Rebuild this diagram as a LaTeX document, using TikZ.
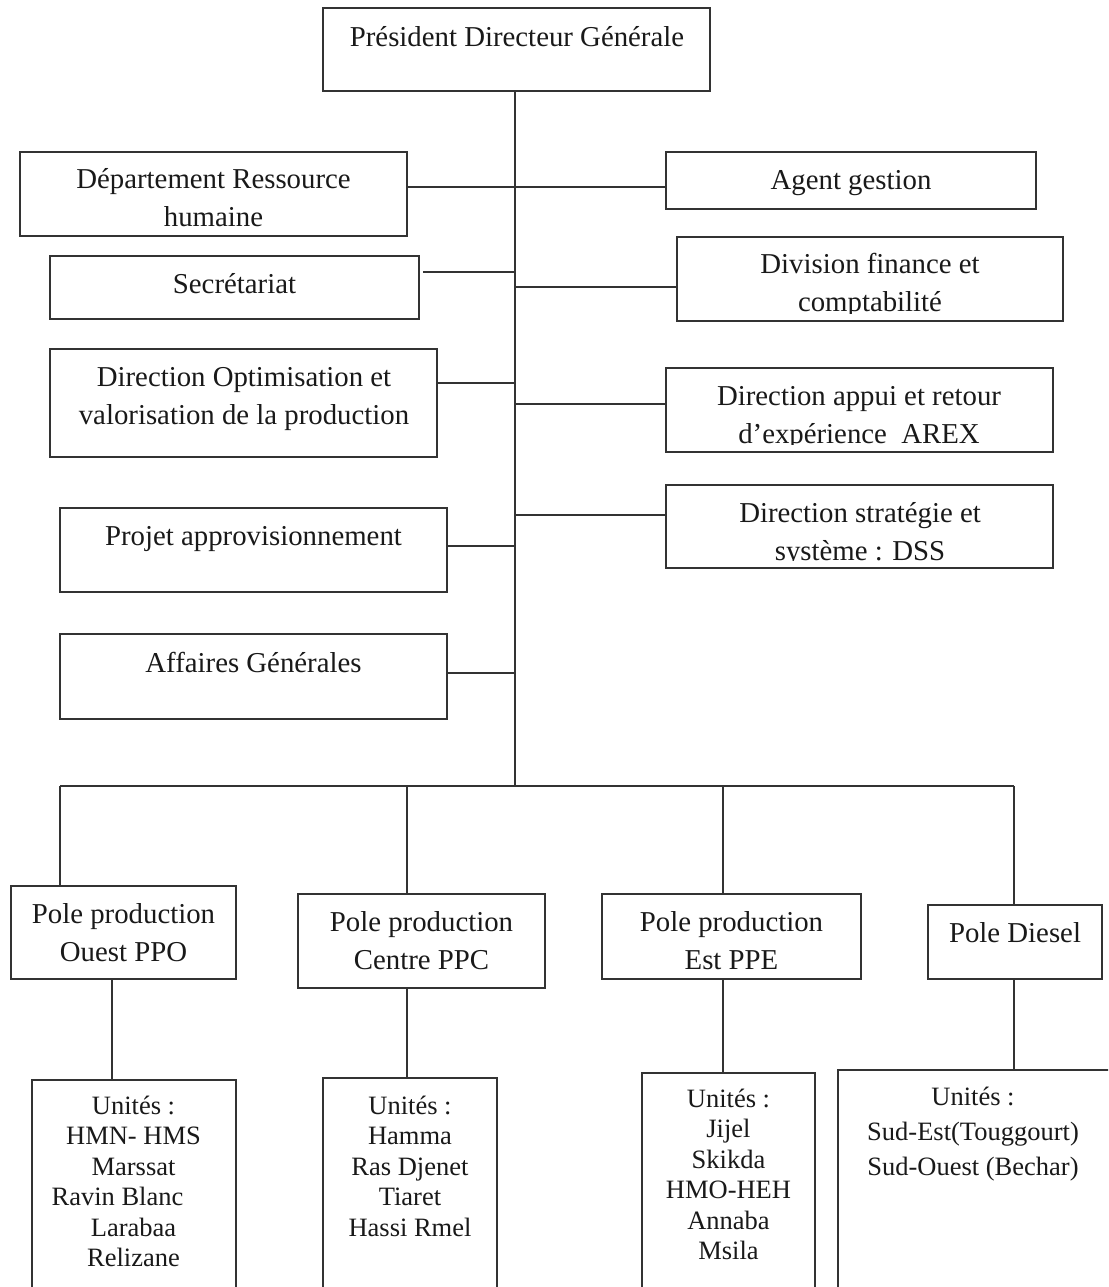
\documentclass[tikz,border=0pt]{standalone}
\usepackage{fontspec}
\setmainfont{Liberation Serif}
\begin{document}
\begin{tikzpicture}[x=1pt,y=-1pt,
  box/.style={draw=black!80, line width=1.9pt, fill=white, inner sep=0pt, outer sep=0pt, rectangle},
  lbl/.style={inner sep=0pt, anchor=base, align=center, text=black!90, font=\fontsize{28.8}{38}\selectfont},
  ulbl/.style={inner sep=0pt, anchor=base, align=center, text=black!90, font=\fontsize{26.5}{30.5}\selectfont},
  dlbl/.style={inner sep=0pt, anchor=base, align=center, text=black!90, font=\fontsize{26.5}{35}\selectfont},
  conn/.style={draw=black!80, line width=1.9pt}]
\newcommand\mkbox[5]{\node[box, anchor=north west, minimum width={(#4-#2)*1pt}, minimum height={(#5-#3)*1pt}] (#1) at (#2,#3) {};}
\useasboundingbox (0,0) rectangle (1108,1287);
\clip (0,0) rectangle (1108,1287);

% boxes
\mkbox{pdg}{323}{8}{710}{91}
\mkbox{rh}{20}{152}{407}{236}
\mkbox{agent}{666}{152}{1036}{209}
\mkbox{sec}{50}{256}{419}{319}
\mkbox{div}{677}{237}{1063}{321}
\mkbox{opt}{50}{349}{437}{457}
\mkbox{arex}{666}{368}{1053}{452}
\mkbox{dss}{666}{485}{1053}{568}
\mkbox{proj}{60}{508}{447}{592}
\mkbox{aff}{60}{634}{447}{719}
\mkbox{ppo}{11}{886}{236}{979}
\mkbox{ppc}{298}{894}{545}{988}
\mkbox{ppe}{602}{894}{861}{979}
\mkbox{diesel}{928}{905}{1102}{979}
\mkbox{uo}{32}{1080}{236}{1300}
\mkbox{uc}{323}{1078}{497}{1300}
\mkbox{ue}{642}{1073}{815}{1300}
\mkbox{ud}{838}{1070}{1130}{1300}

% connectors
\coordinate (s) at (pdg.south -| 515,0);
\coordinate (bus) at (s |- 0,786);
\draw[conn] (s) -- (bus);
\draw[conn] (rh.east |- 0,187) -- (agent.west |- 0,187);
\draw[conn] ([xshift=4pt]sec.east |- 0,272) -- (s |- 0,272);
\draw[conn] (s |- 0,287) -- (div.west |- 0,287);
\draw[conn] (opt.east |- 0,383) -- (s |- 0,383);
\draw[conn] (s |- 0,404) -- (arex.west |- 0,404);
\draw[conn] (s |- 0,515) -- (dss.west |- 0,515);
\draw[conn] (proj.east |- 0,546) -- (s |- 0,546);
\draw[conn] (aff.east |- 0,673) -- (s |- 0,673);
\coordinate (b1) at (60,786);
\coordinate (b2) at (407,786);
\coordinate (b3) at (723,786);
\coordinate (b4) at (1014,786);
\draw[conn] (b1) -- (b4);
\draw[conn] (b1) -- (b1 |- ppo.north);
\draw[conn] (b2) -- (b2 |- ppc.north);
\draw[conn] (b3) -- (b3 |- ppe.north);
\draw[conn] (b4) -- (b4 |- diesel.north);
\draw[conn] (ppo.south -| 112,0) -- (uo.north -| 112,0);
\draw[conn] (ppc.south -| 407,0) -- (uc.north -| 407,0);
\draw[conn] (ppe.south -| 723,0) -- (ue.north -| 723,0);
\draw[conn] (diesel.south -| 1014,0) -- (ud.north -| 1014,0);

% texts (anchor base = baseline of the last line)
\node[lbl] (pdgT) at (517,47) {Président Directeur Générale};
\node[lbl] (rhT) at (213.5,226) {Département Ressource\\humaine};
\node[lbl] (agentT) at (851,189) {Agent gestion};
\node[lbl] (secT) at (234.5,293) {Secrétariat};
\begin{scope}
  \clip (677,237) rectangle (1063,313);
  \node[lbl] (divT) at (870,311) {Division finance et\\comptabilité};
\end{scope}
\node[lbl] (optT) at (244,424) {Direction Optimisation et\\valorisation de la production};
\begin{scope}
  \clip (666,368) rectangle (1053,444.5);
  \node[lbl] (arexT) at (859,443) {Direction appui et retour\\d’expérience\ \ AREX};
\end{scope}
\begin{scope}
  \clip (666,485) rectangle (1053,560.5);
  \node[lbl] (dssT) at (860,560) {Direction stratégie et\\système : DSS};
\end{scope}
\node[lbl] (projT) at (253.5,545) {Projet approvisionnement};
\node[lbl] (affT) at (253.5,672) {Affaires Générales};
\node[lbl] (ppoT) at (123.5,961) {Pole production\\Ouest PPO};
\node[lbl] (ppcT) at (421.5,969) {Pole production\\Centre PPC};
\node[lbl] (ppeT) at (731.5,969) {Pole production\\Est PPE};
\node[lbl] (dieselT) at (1015,942) {Pole Diesel};
\node[ulbl] (uoT) at (133.5,1266.5) {Unités :\\HMN- HMS\\Marssat\\Ravin Blanc\rule{32pt}{0pt}\\Larabaa\\Relizane};
\node[ulbl] (ucT) at (410,1236) {Unités :\\Hamma\\Ras Djenet\\Tiaret\\Hassi Rmel};
\node[ulbl] (ueT) at (728.5,1259.5) {Unités :\\Jijel\\Skikda\\HMO-HEH\\Annaba\\Msila};
\node[dlbl] (udT) at (973,1175) {Unités :\\Sud-Est(Touggourt)\\Sud-Ouest (Bechar)};
\end{tikzpicture}
\end{document}
